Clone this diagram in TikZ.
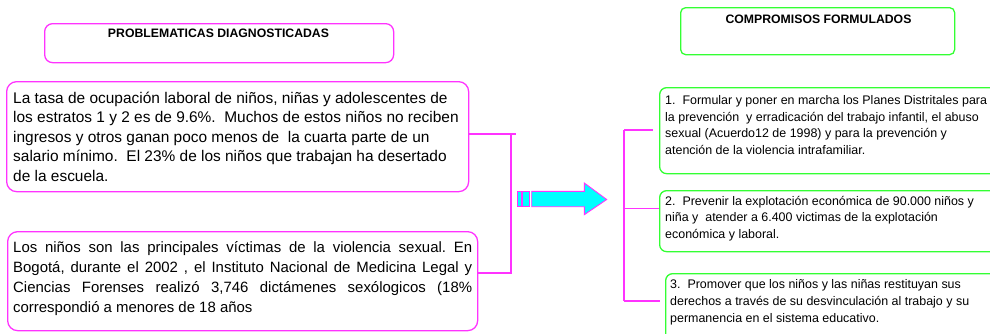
\documentclass[tikz,border=0pt]{standalone}
\usepackage{fontspec}
\setmainfont{Liberation Sans}
\usetikzlibrary{calc}
\definecolor{mag}{HTML}{FF33FF}
\definecolor{grn}{HTML}{33FF33}
\definecolor{cya}{HTML}{00FFFF}
\frenchspacing
\tikzset{
  magbox/.style={draw=mag, line width=1.3bp, rounded corners=8bp, inner sep=0pt, anchor=north west},
  grnbox/.style={draw=grn, line width=1.3bp, rounded corners=7bp, inner sep=0pt, anchor=north west},
  head/.style={inner sep=0pt, anchor=base, font=\fontsize{12.3}{14}\selectfont\bfseries},
  bigtxt/.style={inner sep=0pt, anchor=base west, align=left, font=\fontsize{15.5}{19.6}\selectfont},
  smalltxt/.style={inner sep=0pt, anchor=base west, align=left, font=\fontsize{12.5}{16.7}\selectfont},
  link/.style={draw=mag, line width=1.3bp},
  blockarrow/.style={draw=mag, line width=0.9bp, fill=cya, line join=miter}
}
\begin{document}
\begin{tikzpicture}[x=1bp,y=-1bp]
\useasboundingbox (0,0) rectangle (990,333);
\clip (0,0) rectangle (990,333);
% left header
\node[magbox, minimum width=349bp, minimum height=39bp] (hl) at (44,23) {};
\node[head] (hlt) at (218.5,37.5) {PROBLEMATICAS DIAGNOSTICADAS};
% left boxes (text nodes anchored at the baseline of their last line)
\node[magbox, rounded corners=10bp, minimum width=462bp, minimum height=110bp] (b1) at (6,81) {};
\node[bigtxt] (b1t) at (13,181.4) {La tasa de ocupación laboral de niños, niñas y adolescentes de\\
los estratos 1 y 2 es de 9.6\%.\ \ Muchos de estos niños no reciben\\
ingresos y otros ganan poco menos de\ \ la cuarta parte de un\\
salario mínimo.\ \ El 23\% de los niños que trabajan ha desertado\\
de la escuela.};
\node[magbox, rounded corners=10bp, minimum width=470bp, minimum height=99bp] (b2) at (7,231) {};
\node[bigtxt, font=\fontsize{15}{20}\selectfont] (b2t) at (13,312) {%
\makebox[459bp][s]{Los niños son las principales víctimas de la violencia sexual. En}\\
\makebox[459bp][s]{Bogotá, durante el 2002 , el Instituto Nacional de Medicina Legal y}\\
\makebox[459bp][s]{Ciencias Forenses realizó 3,746 dictámenes sexólogicos (18\%}\\
correspondió a menores de 18 años};
% right header
\node[grnbox, rounded corners=5bp, minimum width=274bp, minimum height=47bp] (hr) at (680,7) {};
\node[head] (hrt) at (818.5,23) {COMPROMISOS FORMULADOS};
% right boxes
\node[grnbox, minimum width=345bp, minimum height=86bp] (r1) at (659,87) {};
\node[smalltxt] (r1t) at (665,154.6) {1.\ \ Formular y poner en marcha los Planes Distritales para\\
la prevención\ \ y erradicación del trabajo infantil, el abuso\\
sexual (Acuerdo12 de 1998) y para la prevención y\\
atención de la violencia intrafamiliar.};
\node[grnbox, minimum width=345bp, minimum height=61bp] (r2) at (659,190) {};
\node[smalltxt] (r2t) at (665,238.6) {2.\ \ Prevenir la explotación económica de 90.000 niños y\\
niña y\ \ atender a 6.400 victimas de la explotación\\
económica y laboral.};
\node[grnbox, minimum width=340bp, minimum height=80bp] (r3) at (665,273) {};
\node[smalltxt] (r3t) at (670,322) {3.\ \ Promover que los niños y las niñas restituyan sus\\
derechos a través de su desvinculación al trabajo y su\\
permanencia en el sistema educativo.};
% left bracket
\coordinate (lbtop) at (516,134);
\coordinate (lbv1) at (511,134);
\coordinate (lbv2) at (511,273);
\draw[link] (b1.east |- lbtop) -- (lbtop);
\draw[link] (b2.east |- lbv2) -- (lbv2) -- (lbv1);
% right bracket
\coordinate (rtop) at (624,130);
\coordinate (rmid) at (624,208.7);
\coordinate (rbot) at (624,301);
\draw[link] (rtop) -- (rbot);
\draw[link, shorten >=6bp] (rtop) -- (r1.west |- rtop);
\draw[link] (rmid) -- (r2.west |- rmid);
\draw[link, shorten >=5bp] (rbot) -- (r3.west |- rbot);
% block arrow
\draw[blockarrow] (517.7,191.3) rectangle (521,206.7);
\draw[blockarrow] (522.7,191.3) rectangle (529.7,206.7);
\draw[blockarrow] (531.7,191.3) -- (584.3,191.3) -- (584.3,183) -- (606.7,199.5) -- (584.3,214.7) -- (584.3,206.7) -- (531.7,206.7) -- cycle;
\end{tikzpicture}
\end{document}
